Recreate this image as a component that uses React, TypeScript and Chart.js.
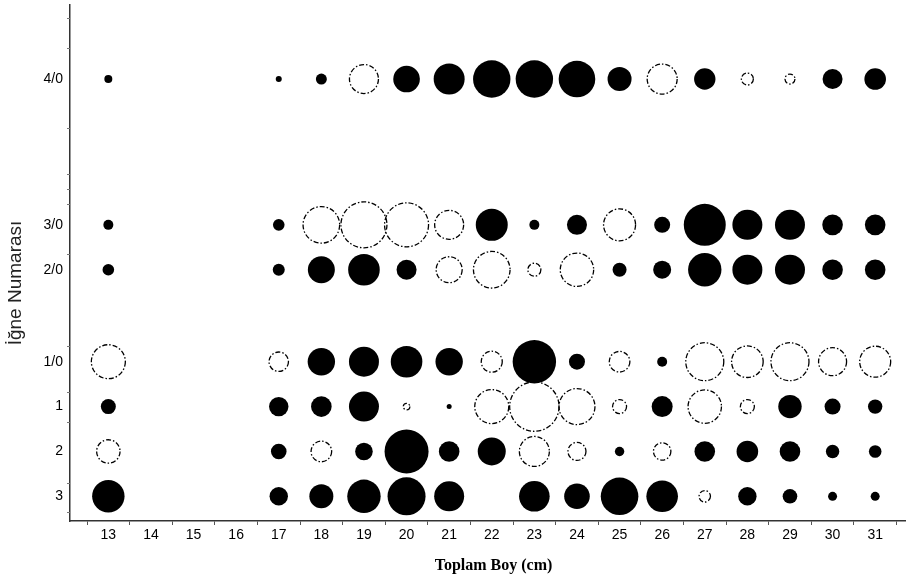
import React, { useEffect, useRef } from 'react';
import { Chart, registerables } from 'chart.js';

Chart.register(...registerables);

// Toplam boy (cm) categories
const lengths = [13, 14, 15, 16, 17, 18, 19, 20, 21, 22, 23, 24, 25, 26, 27, 28, 29, 30, 31];
// Hook (iğne) labels and their positions on the vertical axis
const hookLabels = ['3', '2', '1', '1/0', '2/0', '3/0', '4/0'];
const hookLevels = [0, 1, 2, 3, 5.05, 6.05, 9.3];

// Signed bubble sizes per hook row (positive = filled, negative = open/dashed, null = none)
const row3 = [16.2, null, null, null, 9.2, 12, 16.7, 19, 15, null, 15.3, 12.8, 18.8, 15.8, -5.7, 9.2, 7.3, 4.5, 4.5];
const row2 = [-11.7, null, null, null, 7.8, -10.3, 8.8, 22, 10.3, 14, -15, -9, 4.7, -8.7, 10.3, 10.8, 10.3, 6.7, 6.3];
const row1 = [7.5, null, null, null, 9.7, 10.3, 15, -3.3, 2.5, -17, -24.7, -18, -7, 10.5, -16.7, -7, 11.7, 8, 7.2];
const row1_0 = [-17, null, null, null, -9.7, 13.7, 15, 15.8, 13.7, -10.5, 21.7, 8, -10.3, 5, -19, -15.8, -19, -14, -15.5];
const row2_0 = [5.8, null, null, null, 6, 13.5, 15.8, 10, -13, -18.3, -6.5, -16.7, 7, 9, 16.7, 15, 15, 10.3, 10.3];
const row3_0 = [5, null, null, null, 5.8, -18.3, -23, -22, -14.5, 16, 5, 10, -16, 8, 21, 15, 15, 10.3, 10.3];
const row4_0 = [4, null, null, null, 3, 5.5, -14.5, 13.3, 15.5, 18.7, 18.7, 18.3, 12, -15, 10.7, -6, -5, 10, 10.8];
const rows = [row3, row2, row1, row1_0, row2_0, row3_0, row4_0];

// small minor tick marks on the vertical axis (axis units)
const yMinorTicks = [-0.36, 0.3, 1.66, 2.33, 3.36, 5.41, 6.52, 6.86, 7.19, 8.21, 9.99, 10.66];

const xTitle = 'Toplam Boy (cm)';
const yTitle = 'İğne Numarası';

const dashPlugin = {
  id: 'dashedBubbles',
  beforeDatasetDraw(chart: any, args: any) {
    const ds = chart.data.datasets[args.index];
    if (ds.dash) {
      chart.ctx.save();
      chart.ctx.setLineDash(ds.dash);
    }
  },
  afterDatasetDraw(chart: any, args: any) {
    const ds = chart.data.datasets[args.index];
    if (ds.dash) chart.ctx.restore();
  },
};

const decorPlugin = {
  id: 'decor',
  afterDraw(chart: any) {
    const { ctx, chartArea } = chart;
    const ys = chart.scales.y;
    ctx.save();
    ctx.strokeStyle = '#777';
    ctx.lineWidth = 1;
    yMinorTicks.forEach((v) => {
      const py = Math.round(ys.getPixelForValue(v)) + 0.5;
      ctx.beginPath();
      ctx.moveTo(chartArea.left - 3, py);
      ctx.lineTo(chartArea.left, py);
      ctx.stroke();
    });
    ctx.fillStyle = '#000';
    ctx.font = 'bold 16px "Liberation Serif", "Times New Roman", serif';
    ctx.textAlign = 'center';
    ctx.textBaseline = 'middle';
    ctx.fillText(xTitle, (chartArea.left + chartArea.right) / 2 + 6, 566);
    ctx.fillStyle = '#222';
    ctx.font = '19px "Liberation Sans", Arial, sans-serif';
    ctx.translate(16, 283);
    ctx.rotate(-Math.PI / 2);
    ctx.fillText(yTitle, 0, 0);
    ctx.restore();
  },
};

function buildPoints(sign: number) {
  const pts: { x: number; y: number; r: number }[] = [];
  rows.forEach((row, i) => {
    row.forEach((v, j) => {
      if (v === null) return;
      if (sign > 0 && v > 0) pts.push({ x: lengths[j], y: hookLevels[i], r: v });
      if (sign < 0 && v < 0) pts.push({ x: lengths[j], y: hookLevels[i], r: -v });
    });
  });
  return pts;
}

function zeroPadding(s: any) {
  s.paddingTop = 0;
  s.paddingBottom = 0;
  s.paddingLeft = 0;
  s.paddingRight = 0;
}

export default function App() {
  const ref = useRef<HTMLCanvasElement | null>(null);
  useEffect(() => {
    if (!ref.current) return;
    const tickFont = { family: '"Liberation Sans", Arial, sans-serif', size: 14 };
    const chart = new Chart(ref.current, {
      type: 'bubble',
      data: {
        datasets: [
          {
            label: 'filled',
            data: buildPoints(1),
            backgroundColor: '#000',
            borderColor: '#000',
            borderWidth: 0,
          } as any,
          {
            label: 'open',
            data: buildPoints(-1),
            backgroundColor: 'rgba(0,0,0,0)',
            borderColor: '#000',
            borderWidth: 1.3,
            dash: [5, 2, 1.5, 2],
          } as any,
        ],
      },
      options: {
        animation: false,
        responsive: false,
        events: [],
        layout: { autoPadding: false, padding: { left: 0, right: 2, top: 5, bottom: 0 } },
        plugins: { legend: { display: false }, tooltip: { enabled: false } },
        scales: {
          x: {
            type: 'linear',
            min: 12.1,
            max: 31.7,
            afterBuildTicks: (s: any) => {
              s.ticks = lengths.map((v) => ({ value: v }));
            },
            afterFit: (s: any) => {
              s.height = 59;
              zeroPadding(s);
            },
            ticks: {
              autoSkip: false,
              maxRotation: 0,
              padding: 2,
              color: '#000',
              font: tickFont,
              callback: (_v: any, i: number) => String(lengths[i]),
            },
            grid: {
              display: true,
              drawOnChartArea: false,
              drawTicks: true,
              tickLength: 4,
              offset: true,
              color: '#555',
            },
            border: { display: true, color: '#333', width: 1.5 },
          },
          y: {
            type: 'linear',
            min: -0.55,
            max: 10.95,
            afterBuildTicks: (s: any) => {
              s.ticks = hookLevels.map((v) => ({ value: v }));
            },
            afterFit: (s: any) => {
              s.width = 70;
              zeroPadding(s);
            },
            ticks: {
              autoSkip: false,
              padding: 7,
              color: '#000',
              font: tickFont,
              callback: (_v: any, i: number) => hookLabels[i],
            },
            grid: { display: true, drawOnChartArea: false, drawTicks: false },
            border: { display: true, color: '#333', width: 1.5 },
          },
        },
      },
      plugins: [dashPlugin, decorPlugin],
    });
    return () => chart.destroy();
  }, []);
  return (
    <canvas
      ref={ref}
      width={907}
      height={580}
      style={{ position: 'absolute', left: 0, top: 0, display: 'block' }}
    />
  );
}
